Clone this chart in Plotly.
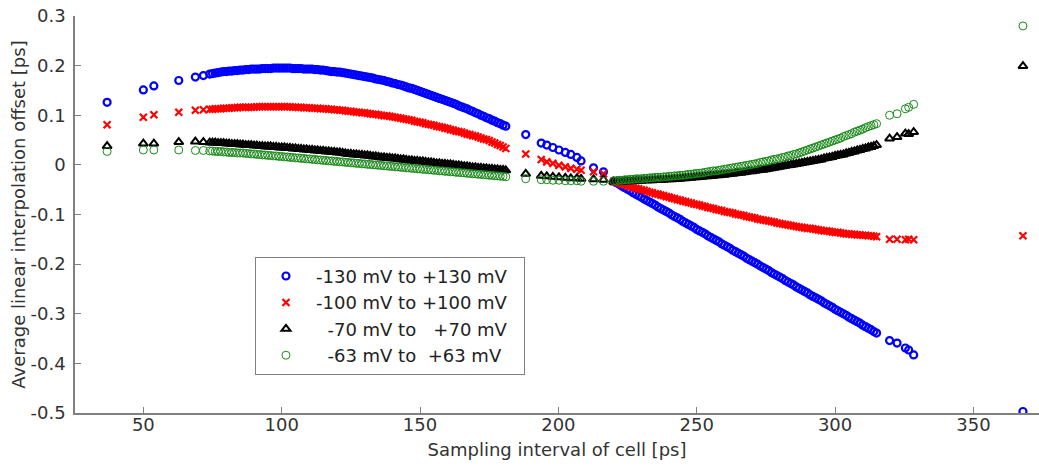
import plotly.graph_objects as go

# ---- Data ----
# Sampling interval of each cell [ps] (shared by all series), first group
x_cells = [
    36.9, 50.0, 53.8, 62.8, 68.8, 71.7,
    74, 76, 78, 80, 82, 84, 86, 88, 90, 92, 94, 96, 98, 100,
    102, 104, 106, 108, 110, 112, 114, 116, 118, 120, 122, 124, 126, 128, 130,
    132, 134, 136, 138, 140, 142, 144, 146, 148, 150, 152, 154, 156, 158, 160,
    162, 164, 166, 168, 170, 172, 174, 176, 178, 180, 181,
    188.2, 193.8, 195.8, 198.0, 200.2, 202.5, 204.5, 206.7, 208.2, 212.7, 216.3,
    220, 222, 224, 226, 228, 230, 232, 234, 236, 238, 240, 242, 244, 246, 248,
    250, 252, 254, 256, 258, 260, 262, 264, 266, 268, 270, 272, 274, 276, 278,
    280, 282, 284, 286, 288, 290, 292, 294, 296, 298, 300, 302, 304, 306, 308,
    310, 312, 314, 315,
    319.7, 322.4, 325.4, 326.6, 328.4,
    367.9,
]

y_130 = [
    0.126, 0.151, 0.159, 0.170, 0.177, 0.180,
    0.183, 0.185, 0.187, 0.188, 0.189, 0.190, 0.191, 0.192, 0.193, 0.193,
    0.194, 0.194, 0.195, 0.195, 0.195, 0.194, 0.194, 0.193, 0.193, 0.192,
    0.191, 0.190, 0.188, 0.187, 0.186, 0.184, 0.182, 0.180, 0.178, 0.176,
    0.173, 0.171, 0.168, 0.165, 0.162, 0.159, 0.155, 0.152, 0.148, 0.144,
    0.140, 0.136, 0.132, 0.128, 0.124, 0.119, 0.115, 0.110, 0.105, 0.100,
    0.095, 0.090, 0.085, 0.080, 0.078,
    0.061, 0.044, 0.040, 0.035, 0.030, 0.025, 0.021, 0.015, 0.008, -0.006, -0.014,
    -0.033, -0.039, -0.046, -0.052, -0.059, -0.065, -0.072, -0.078, -0.085, -0.091,
    -0.097, -0.104, -0.110, -0.117, -0.123, -0.130, -0.136, -0.143, -0.149, -0.155,
    -0.162, -0.168, -0.175, -0.181, -0.188, -0.194, -0.200, -0.207, -0.213, -0.220,
    -0.226, -0.233, -0.239, -0.246, -0.252, -0.258, -0.265, -0.271, -0.278, -0.284,
    -0.291, -0.297, -0.303, -0.310, -0.316, -0.323, -0.329, -0.336, -0.339,
    -0.354, -0.359, -0.369, -0.373, -0.383,
    -0.497,
]

y_100 = [
    0.081, 0.096, 0.101, 0.106, 0.110, 0.111,
    0.112, 0.113, 0.113, 0.114, 0.115, 0.115, 0.116, 0.116, 0.116, 0.117,
    0.117, 0.117, 0.117, 0.117, 0.117, 0.116, 0.116, 0.115, 0.115, 0.114,
    0.113, 0.113, 0.112, 0.111, 0.110, 0.108, 0.107, 0.106, 0.105, 0.103,
    0.102, 0.100, 0.099, 0.097, 0.095, 0.093, 0.091, 0.088, 0.086, 0.083,
    0.081, 0.078, 0.076, 0.073, 0.070, 0.067, 0.064, 0.061, 0.058, 0.054,
    0.051, 0.046, 0.041, 0.036, 0.033,
    0.022, 0.011, 0.006, 0.003, -0.001, -0.004, -0.007, -0.009, -0.011, -0.014, -0.018,
    -0.034, -0.037, -0.040, -0.044, -0.047, -0.050, -0.053, -0.056, -0.059, -0.062,
    -0.065, -0.068, -0.071, -0.074, -0.077, -0.080, -0.083, -0.086, -0.088, -0.091,
    -0.094, -0.096, -0.099, -0.101, -0.104, -0.106, -0.109, -0.111, -0.113, -0.115,
    -0.118, -0.120, -0.122, -0.124, -0.126, -0.128, -0.129, -0.131, -0.133, -0.134,
    -0.136, -0.137, -0.139, -0.140, -0.141, -0.142, -0.143, -0.144, -0.145,
    -0.150, -0.150, -0.151, -0.150, -0.151,
    -0.143,
]

y_70 = [
    0.038, 0.043, 0.043, 0.046, 0.047, 0.046,
    0.045, 0.045, 0.044, 0.043, 0.042, 0.042, 0.041, 0.040, 0.039, 0.038,
    0.037, 0.037, 0.036, 0.035, 0.034, 0.033, 0.032, 0.031, 0.030, 0.029,
    0.028, 0.027, 0.026, 0.025, 0.024, 0.022, 0.021, 0.020, 0.019, 0.018,
    0.017, 0.015, 0.014, 0.013, 0.012, 0.011, 0.009, 0.008, 0.007, 0.006,
    0.005, 0.003, 0.002, 0.001, 0.000, -0.001, -0.003, -0.004, -0.005, -0.006,
    -0.007, -0.008, -0.009, -0.010, -0.011,
    -0.018, -0.022, -0.023, -0.024, -0.025, -0.026, -0.027, -0.027, -0.028, -0.029, -0.030,
    -0.034, -0.034, -0.033, -0.033, -0.032, -0.032, -0.031, -0.031, -0.030, -0.030,
    -0.029, -0.028, -0.028, -0.027, -0.026, -0.025, -0.024, -0.023, -0.022, -0.021,
    -0.020, -0.018, -0.017, -0.016, -0.014, -0.013, -0.011, -0.010, -0.008, -0.006,
    -0.004, -0.002, 0.000, 0.002, 0.004, 0.006, 0.008, 0.010, 0.013, 0.015,
    0.018, 0.020, 0.023, 0.026, 0.029, 0.032, 0.035, 0.038, 0.040,
    0.053, 0.056, 0.063, 0.062, 0.066,
    0.199,
]

y_63 = [
    0.027, 0.030, 0.030, 0.030, 0.029, 0.029,
    0.028, 0.027, 0.027, 0.026, 0.025, 0.024, 0.024, 0.023, 0.022, 0.021,
    0.020, 0.019, 0.018, 0.017, 0.016, 0.015, 0.014, 0.013, 0.012, 0.011,
    0.010, 0.009, 0.008, 0.007, 0.006, 0.005, 0.004, 0.003, 0.002, 0.001,
    0.000, -0.001, -0.002, -0.003, -0.004, -0.005, -0.006, -0.007, -0.008, -0.009,
    -0.010, -0.011, -0.012, -0.013, -0.014, -0.015, -0.016, -0.017, -0.018, -0.019,
    -0.020, -0.021, -0.022, -0.023, -0.024,
    -0.028, -0.030, -0.030, -0.031, -0.031, -0.032, -0.032, -0.032, -0.033, -0.033, -0.033,
    -0.032, -0.031, -0.030, -0.029, -0.028, -0.028, -0.027, -0.026, -0.025, -0.024,
    -0.023, -0.022, -0.021, -0.020, -0.019, -0.017, -0.016, -0.014, -0.012, -0.011,
    -0.009, -0.007, -0.005, -0.003, -0.001, 0.001, 0.003, 0.006, 0.008, 0.011,
    0.013, 0.016, 0.019, 0.022, 0.026, 0.030, 0.034, 0.038, 0.042, 0.046,
    0.050, 0.054, 0.059, 0.063, 0.068, 0.072, 0.077, 0.081, 0.083,
    0.100, 0.103, 0.113, 0.116, 0.122,
    0.280,
]

# Second group of cells (the in-between cells of the two dense bands)
x_cells_b = [
    75, 77, 79, 81, 83, 85, 87, 89, 91, 93, 95, 97, 99, 101, 103, 105, 107, 109,
    111, 113, 115, 117, 119, 121, 123, 125, 127, 129, 131, 133, 135, 137, 139,
    141, 143, 145, 147, 149, 151, 153, 155, 157, 159, 161, 163, 165, 167, 169,
    171, 173, 175, 177, 179,
    221, 223, 225, 227, 229, 231, 233, 235, 237, 239, 241, 243, 245, 247, 249,
    251, 253, 255, 257, 259, 261, 263, 265, 267, 269, 271, 273, 275, 277, 279,
    281, 283, 285, 287, 289, 291, 293, 295, 297, 299, 301, 303, 305, 307, 309,
    311, 313,
]

y_130_b = [
    0.184, 0.186, 0.188, 0.189, 0.190, 0.191, 0.192, 0.193, 0.193, 0.194, 0.194,
    0.195, 0.195, 0.195, 0.195, 0.194, 0.194, 0.193, 0.193, 0.192, 0.191, 0.189,
    0.188, 0.187, 0.185, 0.183, 0.181, 0.179, 0.177, 0.175, 0.172, 0.170, 0.167,
    0.164, 0.161, 0.157, 0.154, 0.150, 0.146, 0.142, 0.138, 0.134, 0.130, 0.126,
    0.122, 0.117, 0.113, 0.108, 0.103, 0.098, 0.093, 0.088, 0.083,
    -0.036, -0.043, -0.049, -0.056, -0.062, -0.069, -0.075, -0.081, -0.088, -0.094,
    -0.101, -0.107, -0.114, -0.120, -0.126, -0.133, -0.139, -0.146, -0.152, -0.159,
    -0.165, -0.172, -0.178, -0.184, -0.191, -0.197, -0.204, -0.210, -0.217, -0.223,
    -0.229, -0.236, -0.242, -0.249, -0.255, -0.262, -0.268, -0.274, -0.281, -0.287,
    -0.294, -0.300, -0.307, -0.313, -0.319, -0.326, -0.332,
]

y_100_b = [
    0.112, 0.113, 0.114, 0.114, 0.115, 0.116, 0.116, 0.116, 0.117, 0.117, 0.117,
    0.117, 0.117, 0.117, 0.117, 0.116, 0.116, 0.115, 0.114, 0.114, 0.113, 0.112,
    0.111, 0.110, 0.109, 0.108, 0.106, 0.105, 0.104, 0.102, 0.101, 0.099, 0.098,
    0.096, 0.094, 0.092, 0.090, 0.087, 0.085, 0.082, 0.080, 0.077, 0.074, 0.071,
    0.068, 0.066, 0.062, 0.059, 0.056, 0.052, 0.049, 0.044, 0.039,
    -0.035, -0.039, -0.042, -0.045, -0.048, -0.051, -0.055, -0.058, -0.061, -0.064,
    -0.067, -0.070, -0.073, -0.076, -0.079, -0.081, -0.084, -0.087, -0.090, -0.092,
    -0.095, -0.097, -0.100, -0.102, -0.105, -0.107, -0.110, -0.112, -0.114, -0.117,
    -0.119, -0.121, -0.123, -0.125, -0.127, -0.128, -0.130, -0.132, -0.133, -0.135,
    -0.136, -0.138, -0.139, -0.140, -0.141, -0.142, -0.143,
]

y_70_b = [
    0.045, 0.044, 0.044, 0.043, 0.042, 0.041, 0.040, 0.040, 0.039, 0.038, 0.037,
    0.036, 0.035, 0.035, 0.034, 0.033, 0.032, 0.031, 0.030, 0.029, 0.028, 0.027,
    0.026, 0.025, 0.023, 0.022, 0.021, 0.020, 0.019, 0.017, 0.016, 0.015, 0.014,
    0.013, 0.011, 0.010, 0.009, 0.008, 0.007, 0.005, 0.004, 0.003, 0.002, 0.001,
    -0.001, -0.002, -0.003, -0.005, -0.006, -0.007, -0.008, -0.009, -0.010,
    -0.034, -0.034, -0.033, -0.032, -0.032, -0.031, -0.031, -0.030, -0.030, -0.029,
    -0.029, -0.028, -0.027, -0.026, -0.025, -0.024, -0.023, -0.022, -0.021, -0.020,
    -0.019, -0.018, -0.016, -0.015, -0.013, -0.012, -0.010, -0.009, -0.007, -0.005,
    -0.003, -0.001, 0.001, 0.003, 0.005, 0.007, 0.009, 0.011, 0.014, 0.016,
    0.019, 0.021, 0.024, 0.027, 0.030, 0.033, 0.036,
]

y_63_b = [
    0.028, 0.027, 0.026, 0.025, 0.025, 0.024, 0.023, 0.022, 0.021, 0.020, 0.019,
    0.018, 0.017, 0.016, 0.015, 0.014, 0.013, 0.012, 0.011, 0.010, 0.009, 0.008,
    0.007, 0.006, 0.005, 0.004, 0.003, 0.002, 0.001, 0.000, -0.001, -0.002, -0.003,
    -0.004, -0.005, -0.006, -0.007, -0.008, -0.009, -0.010, -0.011, -0.012, -0.013,
    -0.014, -0.015, -0.016, -0.017, -0.018, -0.019, -0.020, -0.021, -0.022, -0.023,
    -0.032, -0.031, -0.030, -0.029, -0.028, -0.027, -0.026, -0.025, -0.025, -0.024,
    -0.023, -0.022, -0.021, -0.019, -0.018, -0.017, -0.015, -0.013, -0.012, -0.010,
    -0.008, -0.006, -0.004, -0.002, 0.000, 0.002, 0.005, 0.007, 0.010, 0.012,
    0.015, 0.018, 0.021, 0.024, 0.028, 0.032, 0.036, 0.040, 0.044, 0.048,
    0.052, 0.057, 0.061, 0.066, 0.070, 0.075, 0.079,
]

series_names = [
    "-130 mV to +130 mV\u00a0\u00a0",
    "-100 mV to +100 mV\u00a0\u00a0",
    "\u2007-70 mV to \u2007+70 mV",
    "\u2007-63 mV to\u00a0 +63 mV",
]
x_ticks = [50, 100, 150, 200, 250, 300, 350]
y_ticks = [0.3, 0.2, 0.1, 0, -0.1, -0.2, -0.3, -0.4, -0.5]
y_tick_text = ["0.3", "0.2", "0.1", "0", "-0.1", "-0.2", "-0.3", "-0.4", "-0.5"]

for ys in (y_130, y_100, y_70, y_63):
    assert len(ys) == len(x_cells), (len(ys), len(x_cells))
for ys in (y_130_b, y_100_b, y_70_b, y_63_b):
    assert len(ys) == len(x_cells_b), (len(ys), len(x_cells_b))

styles = [
    dict(symbol="circle-open", color="#0000ff", size=7, line=dict(width=2.2, color="#0000ff")),
    dict(symbol="x-thin-open", color="#ff0000", size=7, line=dict(width=2.2, color="#ff0000")),
    dict(symbol="triangle-up-open", color="#000000", size=8, line=dict(width=2, color="#000000")),
    dict(symbol="circle-open", color="#1a8a1a", size=8, line=dict(width=1, color="#1a8a1a")),
]

fig = go.Figure()
for name, ya, yb, st in zip(series_names,
                            (y_130, y_100, y_70, y_63),
                            (y_130_b, y_100_b, y_70_b, y_63_b),
                            styles):
    fig.add_trace(go.Scatter(x=x_cells + x_cells_b, y=ya + yb, mode="markers",
                             name=name, marker=st))

font_family = "DejaVu Sans, sans-serif"
axis_color = "#808080"
text_color = "#333333"
fs = 18

fig.update_layout(
    width=1039, height=467,
    margin=dict(l=75, r=0, t=16, b=54),
    paper_bgcolor="white", plot_bgcolor="white",
    font=dict(family=font_family, size=fs, color=text_color),
    showlegend=True,
    legend=dict(
        x=0.1867, y=0.3934, xanchor="left", yanchor="top",
        bgcolor="white", bordercolor="#808080", borderwidth=1,
        font=dict(family=font_family, size=fs, color="#222222"),
        itemwidth=50, tracegroupgap=0,
    ),
    xaxis=dict(
        range=[25.3, 373.7], tickvals=x_ticks, ticktext=[str(v) for v in x_ticks],
        showgrid=False, zeroline=False, showline=True, linecolor=axis_color, linewidth=1.5,
        ticks="inside", ticklen=6, tickcolor=axis_color, tickwidth=1,
        tickfont=dict(size=fs, color=text_color), ticklabelstandoff=-5,
        title=dict(text="Sampling interval of cell [ps]", font=dict(size=fs, color=text_color), standoff=9),
    ),
    yaxis=dict(
        range=[-0.5, 0.3], tickvals=y_ticks, ticktext=y_tick_text,
        showgrid=False, zeroline=False, showline=True, linecolor=axis_color, linewidth=1.5,
        ticks="inside", ticklen=6, tickcolor=axis_color, tickwidth=1,
        tickfont=dict(size=fs, color=text_color), ticklabelstandoff=4,
        title=dict(text="Average linear interpolation offset [ps]", font=dict(size=fs, color=text_color), standoff=0),
    ),
)

fig.write_html("out.html")
